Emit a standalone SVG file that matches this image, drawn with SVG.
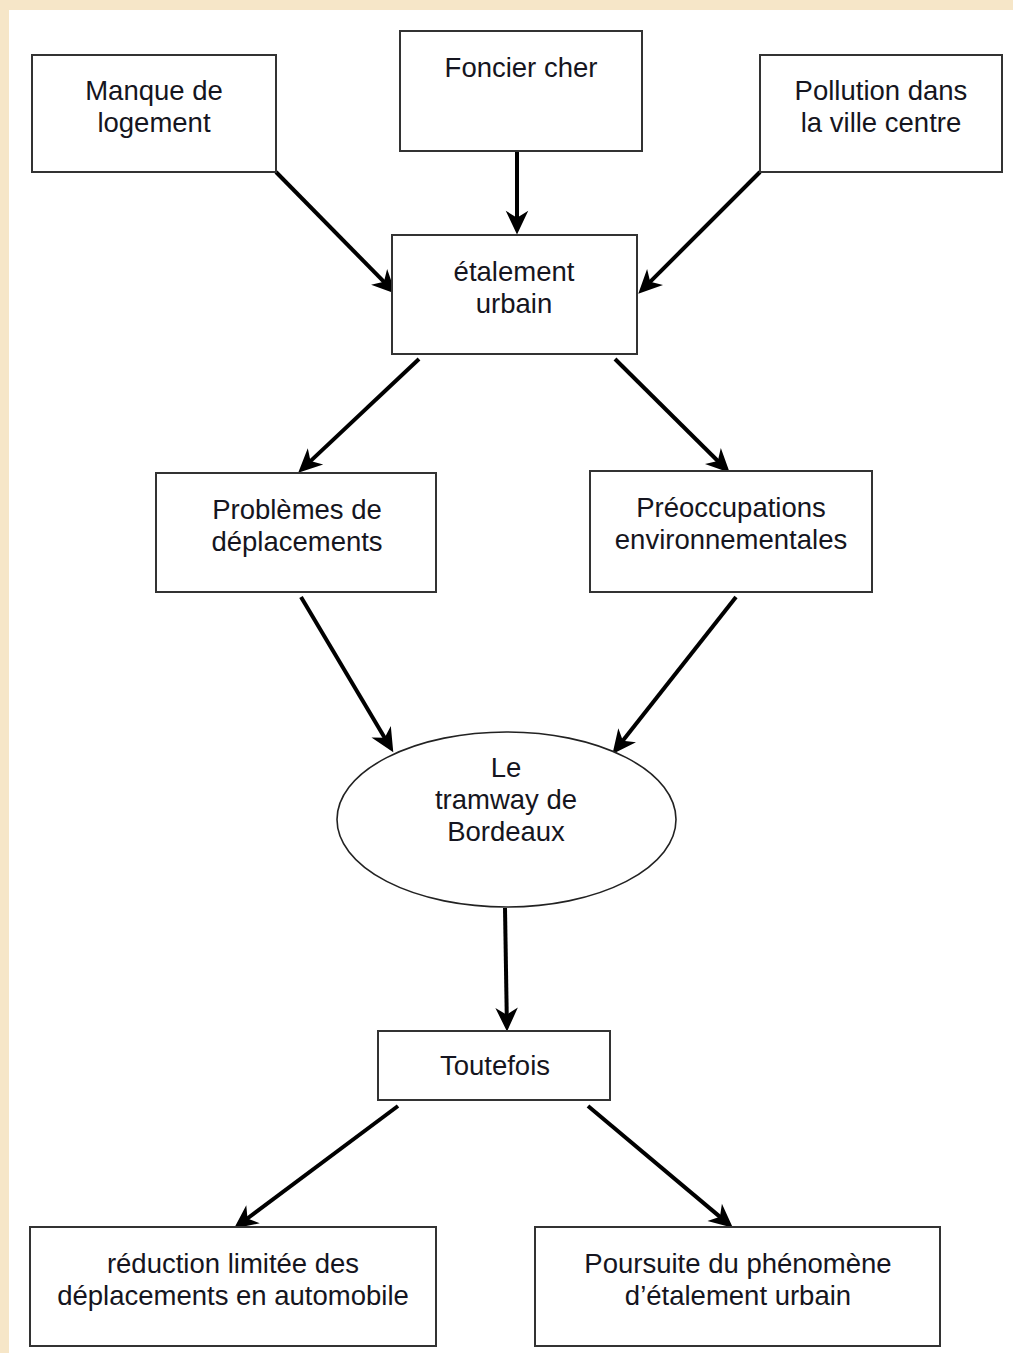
<svg xmlns="http://www.w3.org/2000/svg" width="1013" height="1353" viewBox="0 0 1013 1353">
<defs>
<style>
.box{fill:#fff;stroke:#333;stroke-width:2}
.ell{fill:#fff;stroke:#222;stroke-width:1.6}
.t{font-family:"Liberation Sans",Arial,sans-serif;font-size:27.5px;fill:#151520;text-anchor:middle}
.c{stroke:#000;stroke-width:4;fill:none;marker-end:url(#ah)}
</style>
<marker id="ah" markerUnits="userSpaceOnUse" markerWidth="30" markerHeight="30" viewBox="-12 -12 24 24" refX="0" refY="0" orient="auto">
<path d="M10,0 L-9,-9 L-3.5,0 L-9,9 Z" fill="#000"/>
</marker>
</defs>
<rect x="0" y="0" width="1013" height="1353" fill="#f6e6c8"/>
<rect x="9" y="10" width="1004" height="1343" fill="#fff"/>

<g id="connectors">
<line class="c" x1="276" y1="172" x2="387" y2="284.9"/>
<line class="c" x1="517" y1="151" x2="517" y2="222"/>
<line class="c" x1="760" y1="172" x2="647.1" y2="284.9"/>
<line class="c" x1="419" y1="359" x2="307.3" y2="464.1"/>
<line class="c" x1="615" y1="359" x2="720.9" y2="464"/>
<line class="c" x1="301" y1="597" x2="386.9" y2="741.4"/>
<line class="c" x1="736" y1="597" x2="620.2" y2="744.1"/>
<line class="c" x1="505" y1="908" x2="506.8" y2="1019"/>
<line class="c" x1="398" y1="1106" x2="244" y2="1221"/>
<line class="c" x1="588" y1="1106" x2="723.3" y2="1219.6"/>
</g>

<g id="manque">
<rect class="box" x="32" y="55" width="244" height="117"/>
<text class="t" x="154" y="100">Manque de</text>
<text class="t" x="154" y="132">logement</text>
</g>
<g id="foncier">
<rect class="box" x="400" y="31" width="242" height="120"/>
<text class="t" x="521" y="77">Foncier cher</text>
</g>
<g id="pollution">
<rect class="box" x="760" y="55" width="242" height="117"/>
<text class="t" x="881" y="100">Pollution dans</text>
<text class="t" x="881" y="132">la ville centre</text>
</g>
<g id="etalement">
<rect class="box" x="392" y="235" width="245" height="119"/>
<text class="t" x="514" y="281">étalement</text>
<text class="t" x="514" y="313">urbain</text>
</g>
<g id="problemes">
<rect class="box" x="156" y="473" width="280" height="119"/>
<text class="t" x="297" y="519">Problèmes de</text>
<text class="t" x="297" y="551">déplacements</text>
</g>
<g id="preoccupations">
<rect class="box" x="590" y="471" width="282" height="121"/>
<text class="t" x="731" y="517">Préoccupations</text>
<text class="t" x="731" y="549">environnementales</text>
</g>
<g id="tramway">
<ellipse class="ell" cx="506.5" cy="819.5" rx="169.5" ry="87.5"/>
<text class="t" x="506" y="777">Le</text>
<text class="t" x="506" y="809">tramway de</text>
<text class="t" x="506" y="841">Bordeaux</text>
</g>
<g id="toutefois">
<rect class="box" x="378" y="1031" width="232" height="69"/>
<text class="t" x="495" y="1075">Toutefois</text>
</g>
<g id="reduction">
<rect class="box" x="30" y="1227" width="406" height="119"/>
<text class="t" x="233" y="1273">réduction limitée des</text>
<text class="t" x="233" y="1305">déplacements en automobile</text>
</g>
<g id="poursuite">
<rect class="box" x="535" y="1227" width="405" height="119"/>
<text class="t" x="738" y="1273">Poursuite du phénomène</text>
<text class="t" x="738" y="1305">d’étalement urbain</text>
</g>
</svg>
